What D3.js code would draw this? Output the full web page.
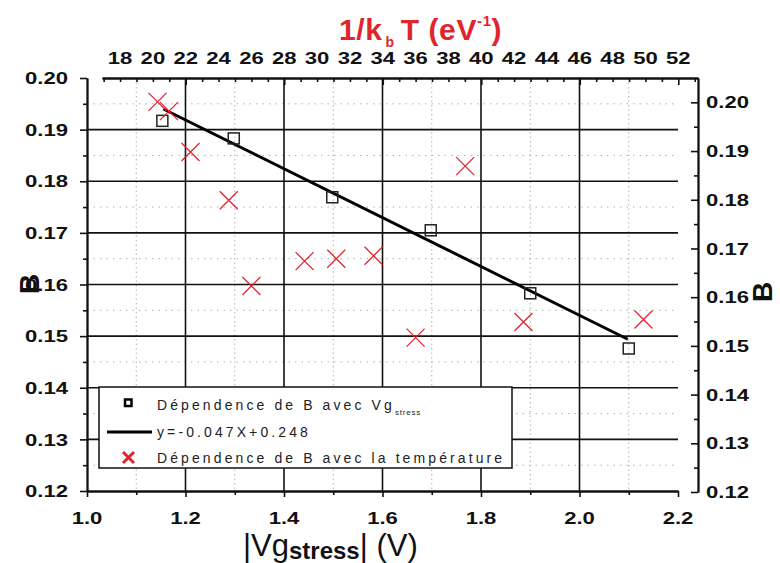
<!DOCTYPE html>
<html>
<head>
<meta charset="utf-8">
<script src="https://cdn.jsdelivr.net/npm/d3@7"></script>
<style>
  html, body { margin: 0; padding: 0; background: #fff; }
  svg { display: block; font-family: "Liberation Sans", Arial, sans-serif; }
</style>
</head>
<body>
<svg id="chart" width="780" height="563"></svg>
<script>
// ---------------- data ----------------
// Series 1: B vs |Vg_stress| (bottom / left axes)
const vgStress = [1.153, 1.298, 1.498, 1.698, 1.900, 2.100];
const bVg      = [0.1917, 0.1883, 0.1769, 0.1705, 0.1583, 0.1476];
// Linear fit line endpoints (bottom / left axes)
const fitX = [1.155, 2.098];
const fitY = [0.1940, 0.1494];
// Series 2: B vs 1/kbT (top / right axes)
const invKT = [20.28, 20.98, 22.29, 24.62, 26.0, 29.24, 31.17, 33.44, 36.0, 39.02, 42.57, 49.88];
const bTemp = [0.2001, 0.1982, 0.1898, 0.1799, 0.1623, 0.1674, 0.1679, 0.1685, 0.1517, 0.1869, 0.1549, 0.1554];
// Tick values / labels
const vgTicks = [1.0, 1.2, 1.4, 1.6, 1.8, 2.0, 2.2];
const vgMinor = [1.1, 1.3, 1.5, 1.7, 1.9, 2.1];
const bTicks = [0.12, 0.13, 0.14, 0.15, 0.16, 0.17, 0.18, 0.19, 0.20];
const bMinor = [0.125, 0.135, 0.145, 0.155, 0.165, 0.175, 0.185, 0.195];
const invKTLabels = [18, 20, 22, 24, 26, 28, 30, 32, 34, 36, 38, 40, 42, 44, 46, 48, 50, 52];
const invKTMajor = [22, 28, 34, 40, 46, 52];
const invKTMinor = [17, 18, 19, 20, 21, 23, 24, 25, 26, 27, 29, 30, 31, 32, 33, 35, 36, 37, 38, 39,
                    41, 42, 43, 44, 45, 47, 48, 49, 50, 51, 53];
const legendLabels = ["Dépendence de B avec Vg", "y=-0.047X+0.248", "Dépendence de B avec la température"];

// ---------------- scales ----------------
const x1 = d3.scaleLinear().domain([1.0, 2.2]).range([87, 678]);
const y1 = d3.scaleLinear().domain([0.12, 0.20]).range([491, 78]);
const x2 = d3.scaleLinear().domain([16.9, 53.2]).range([102, 698]);
const y2 = d3.scaleLinear().domain([0.12, 0.205]).range([492, 78]);

const svg = d3.select("#chart");
const RED = "#e0252f";
const SX = 1.3; // horizontal stretch of text in the reference

// ---------------- grid (bottom/left system) ----------------
const grid = svg.append("g");
grid.selectAll(".hd").data(bMinor).join("line")
  .attr("x1", x1(1.0)).attr("x2", x1(2.2))
  .attr("y1", d => y1(d)).attr("y2", d => y1(d))
  .attr("stroke", "#b0b0b0").attr("stroke-width", 1).attr("stroke-dasharray", "1.5,5");
grid.selectAll(".vd").data(vgMinor).join("line")
  .attr("x1", d => x1(d)).attr("x2", d => x1(d))
  .attr("y1", y1(0.20)).attr("y2", y1(0.12))
  .attr("stroke", "#b0b0b0").attr("stroke-width", 1).attr("stroke-dasharray", "1.5,3");
grid.selectAll(".hs").data(bTicks.slice(1, -1)).join("line")
  .attr("x1", x1(1.0)).attr("x2", x1(2.2))
  .attr("y1", d => y1(d)).attr("y2", d => y1(d))
  .attr("stroke", "#111").attr("stroke-width", 1.6);
grid.selectAll(".vs").data(vgTicks.slice(1, -1)).join("line")
  .attr("x1", d => x1(d)).attr("x2", d => x1(d))
  .attr("y1", y1(0.20)).attr("y2", y1(0.12))
  .attr("stroke", "#111").attr("stroke-width", 1.6);

// ---------------- axes ----------------
function styleAxis(g) {
  g.selectAll("path").attr("stroke", "#111").attr("stroke-width", 1.8);
  g.selectAll("line").attr("stroke", "#111").attr("stroke-width", 1.6);
  g.selectAll("text").remove();
}
// left
svg.append("g").attr("transform", `translate(${x1(1.0)},0)`)
  .call(d3.axisLeft(y1).tickValues(bTicks).tickSize(7).tickSizeOuter(0)).call(styleAxis);
svg.append("g").attr("transform", `translate(${x1(1.0)},0)`)
  .call(d3.axisLeft(y1).tickValues(bMinor).tickSize(4).tickSizeOuter(0)).call(styleAxis);
// bottom
svg.append("g").attr("transform", `translate(0,${y1(0.12)})`)
  .call(d3.axisBottom(x1).tickValues(vgTicks).tickSize(6).tickSizeOuter(0)).call(styleAxis);
svg.append("g").attr("transform", `translate(0,${y1(0.12)})`)
  .call(d3.axisBottom(x1).tickValues(vgMinor).tickSize(4).tickSizeOuter(0)).call(styleAxis);
// right (ticks inward)
svg.append("g").attr("transform", `translate(${x2.range()[1]},0)`)
  .call(d3.axisLeft(y2).tickValues(bTicks).tickSize(7).tickSizeOuter(0)).call(styleAxis);
svg.append("g").attr("transform", `translate(${x2.range()[1]},0)`)
  .call(d3.axisLeft(y2).tickValues(bMinor).tickSize(4).tickSizeOuter(0)).call(styleAxis);
// top (ticks inward)
svg.append("g").attr("transform", `translate(0,${y2.range()[1]})`)
  .call(d3.axisBottom(x2).tickValues(invKTMajor).tickSize(7).tickSizeOuter(0)).call(styleAxis);
svg.append("g").attr("transform", `translate(0,${y2.range()[1]})`)
  .call(d3.axisBottom(x2).tickValues(invKTMinor).tickSize(4).tickSizeOuter(0)).call(styleAxis);

// ---------------- tick labels ----------------
const fmt2 = d3.format(".2f"), fmt1 = d3.format(".1f");
const lab = svg.append("g").attr("font-weight", "bold").attr("font-size", 17).attr("fill", "#111");
lab.selectAll(".ll").data(bTicks).join("text")
  .attr("text-anchor", "end").attr("dy", "0.36em")
  .attr("transform", d => `translate(68,${y1(d)}) scale(${SX},1)`).text(d => fmt2(d));
lab.selectAll(".rl").data(bTicks).join("text")
  .attr("text-anchor", "start").attr("dy", "0.36em")
  .attr("transform", d => `translate(706,${y2(d)}) scale(${SX},1)`).text(d => fmt2(d));
lab.selectAll(".bl").data(vgTicks).join("text")
  .attr("text-anchor", "middle")
  .attr("transform", d => `translate(${x1(d)},524) scale(${SX},1)`).text(d => fmt1(d));
lab.selectAll(".tl").data(invKTLabels).join("text")
  .attr("text-anchor", "middle")
  .attr("transform", d => `translate(${x2(d)},64) scale(${SX},1)`).text(d => d);

// ---------------- axis titles ----------------
svg.append("text").attr("transform", "translate(39,284) rotate(-90)")
  .attr("text-anchor", "middle").attr("font-weight", "bold").attr("font-size", 28).attr("fill", "#111").text("B");
svg.append("text").attr("transform", "translate(772,292) rotate(-90)")
  .attr("text-anchor", "middle").attr("font-weight", "bold").attr("font-size", 28).attr("fill", "#111").text("B");

const bt = svg.append("text").attr("x", 243).attr("y", 556).attr("font-size", 31).attr("fill", "#111");
bt.append("tspan").text("|Vg");
bt.append("tspan").attr("font-weight", "bold").attr("font-size", 24).attr("dy", 3).text("stress");
bt.append("tspan").attr("dy", -3).text("| (V)");

const tt = svg.append("text").attr("x", 339).attr("y", 40).attr("font-size", 30)
  .attr("font-weight", "bold").attr("fill", RED).attr("letter-spacing", "0.6px");
tt.append("tspan").text("1/k");
tt.append("tspan").attr("font-size", 14).attr("dy", 7).attr("dx", 3).text("b");
tt.append("tspan").attr("dy", -7).attr("dx", 6).text("T (eV");
tt.append("tspan").attr("font-size", 15).attr("dy", -14).text("-1");
tt.append("tspan").attr("dy", 14).text(")");

// ---------------- fit line ----------------
svg.append("line")
  .attr("x1", x1(fitX[0])).attr("y1", y1(fitY[0]))
  .attr("x2", x1(fitX[1])).attr("y2", y1(fitY[1]))
  .attr("stroke", "#000").attr("stroke-width", 3);

// ---------------- squares ----------------
const sq = 11;
svg.selectAll(".sq").data(vgStress).join("rect")
  .attr("x", d => x1(d) - sq / 2).attr("y", (d, i) => y1(bVg[i]) - sq / 2)
  .attr("width", sq).attr("height", sq)
  .attr("fill", "none").attr("stroke", "#222").attr("stroke-width", 1.5);

// ---------------- red crosses ----------------
const cs = 9;
const crosses = svg.append("g").attr("stroke", RED).attr("stroke-width", 1.3);
invKT.forEach((v, i) => {
  const cx = x2(v), cy = y2(bTemp[i]);
  crosses.append("path").attr("d", `M${cx - cs},${cy - cs}L${cx + cs},${cy + cs}M${cx - cs},${cy + cs}L${cx + cs},${cy - cs}`);
});

// ---------------- legend ----------------
const lg = svg.append("g");
lg.append("rect").attr("x", 99).attr("y", 387).attr("width", 413).attr("height", 81)
  .attr("fill", "#fff").attr("stroke", "#111").attr("stroke-width", 1.5);
lg.append("rect").attr("x", 125).attr("y", 399.5).attr("width", 6.5).attr("height", 6.5)
  .attr("fill", "none").attr("stroke", "#000").attr("stroke-width", 2.5);
lg.append("line").attr("x1", 107).attr("x2", 152).attr("y1", 432).attr("y2", 432)
  .attr("stroke", "#000").attr("stroke-width", 3);
lg.append("path").attr("d", "M123,452L134,463M123,463L134,452")
  .attr("stroke", RED).attr("stroke-width", 3);
const lgText = lg.append("g").attr("font-size", 14).attr("fill", "#222").attr("letter-spacing", "3.1px");
const rowsY = [405, 432, 458];
legendLabels.forEach((t, i) => {
  const tx = lgText.append("text").attr("x", 157).attr("y", rowsY[i]).attr("dy", "0.36em").text(t);
  if (i === 0) tx.append("tspan").attr("font-size", 8).attr("letter-spacing", "0.8px").attr("dy", 5).text("stress");
});
</script>
</body>
</html>
